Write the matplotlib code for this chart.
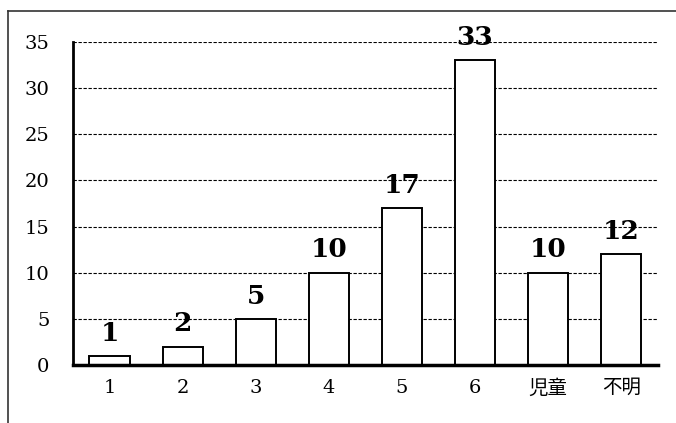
import matplotlib.pyplot as plt
from matplotlib.lines import Line2D

categories = ['1', '2', '3', '4', '5', '6', '児童', '不明']
counts = [1, 2, 5, 10, 17, 33, 10, 12]
y_ticks = [0, 5, 10, 15, 20, 25, 30, 35]

plt.rcParams['font.family'] = ['DejaVu Serif', 'Noto Sans CJK JP']

fig = plt.figure(figsize=(6.76, 4.23), dpi=100)
ax = fig.add_axes([0.108, 0.137, 0.865, 0.764])

x = range(len(categories))
bars = ax.bar(x, counts, width=0.55, color='white', edgecolor='black',
              linewidth=1.4, zorder=3)

# 棒の上に件数を表示
for b, v in zip(bars, counts):
    ax.annotate(str(v), (b.get_x() + b.get_width() / 2, v),
                xytext=(0, 11), textcoords='offset points',
                ha='center', va='baseline', fontsize=19, fontweight='bold')

ax.set_xlim(-0.5, len(categories) - 0.5)
ax.set_ylim(0, 35)
ax.set_yticks(y_ticks)
ax.set_xticks(list(x))
ax.set_xticklabels(categories)
ax.tick_params(axis='both', length=0, labelsize=14)
ax.tick_params(axis='y', pad=17)
ax.tick_params(axis='x', pad=10)

ax.yaxis.grid(True, linestyle=(0, (3, 1.5)), color='black', linewidth=0.8, zorder=0)
ax.set_axisbelow(True)
for s in ['top', 'right']:
    ax.spines[s].set_visible(False)
ax.spines['left'].set_linewidth(2)
ax.spines['bottom'].set_linewidth(2.5)
ax.spines['bottom'].set_zorder(4)

# 外枠（左と上）
fig.add_artist(Line2D([8 / 676, 8 / 676], [0, 1 - 11 / 423], color='#333333',
                      linewidth=1.2, transform=fig.transFigure))
fig.add_artist(Line2D([8 / 676, 1], [1 - 11 / 423, 1 - 11 / 423], color='#333333',
                      linewidth=1.2, transform=fig.transFigure))

fig.savefig('out.png', dpi=100)
